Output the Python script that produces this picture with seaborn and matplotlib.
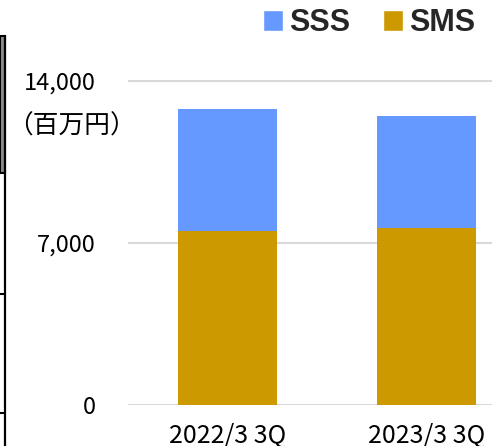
import matplotlib
matplotlib.use("Agg")
import matplotlib.pyplot as plt
import seaborn as sns
import pandas as pd
from matplotlib.patches import Patch, Rectangle
from matplotlib.lines import Line2D

# data (unit: million yen)
periods = ["2022/3 3Q", "2023/3 3Q"]
sms = [7500, 7610]
sss = [5255, 4855]
y_ticks = [0, 7000, 14000]
y_tick_labels = ["0", "7,000", "14,000"]
unit_label = "（百万円）"

BLUE = "#6699ff"
GOLD = "#cc9900"

sns.set_theme(style="white")
plt.rcParams["font.family"] = ["Noto Sans CJK JP", "DejaVu Sans"]

df = pd.DataFrame({"period": periods, "SMS": sms, "SSS": sss})
df["total"] = df["SMS"] + df["SSS"]

y_top = 14300
px_per_unit = 324 / 14000
fig = plt.figure(figsize=(4.92, 4.46), dpi=100)
ax = fig.add_axes([128 / 492, 41.5 / 446, 1 - 128 / 492, y_top * px_per_unit / 446])

# stacked bars: total (blue) underneath, SMS (gold) on top of it
sns.barplot(data=df, x="period", y="total", color=BLUE, width=0.5,
            saturation=1, linewidth=0, ax=ax, zorder=2)
sns.barplot(data=df, x="period", y="SMS", color=GOLD, width=0.5,
            saturation=1, linewidth=0, ax=ax, zorder=3)

ax.set_xlim(-0.5, 1.33)
ax.set_ylim(0, y_top)
ax.set_yticks(y_ticks)
ax.set_yticklabels(y_tick_labels)
ax.yaxis.grid(True, color="#d9d9d9", linewidth=1.5, zorder=0)
ax.set_axisbelow(True)
ax.set_xlabel("")
ax.set_ylabel("")
sns.despine(ax=ax, left=True, bottom=True)
ax.tick_params(axis="y", length=0, pad=23, labelsize=17, colors="black")
ax.tick_params(axis="x", length=0, pad=13, labelsize=18, colors="black")

fig.text(7 / 492, 1 - 127 / 446, unit_label, fontsize=18.5, va="center",
         ha="left", color="black")

# legend
handles = [Patch(facecolor=BLUE, label="SSS"), Patch(facecolor=GOLD, label="SMS")]
fig.legend(handles=handles, loc="center right", bbox_to_anchor=(475 / 492, 1 - 23 / 446),
           ncol=2, frameon=False, handlelength=0.66, handleheight=0.66,
           handletextpad=0.2, columnspacing=1.05, borderpad=0, borderaxespad=0,
           prop={"family": "Liberation Sans", "weight": "bold", "size": 22})

# cropped fragment of neighbouring slide on the left edge
fig.add_artist(Rectangle((0, 1 - 173 / 446), 4.5 / 492, 137 / 446,
                         transform=fig.transFigure, facecolor="#8c8c8c",
                         edgecolor="black", linewidth=1.5))
fig.add_artist(Line2D([4.5 / 492, 4.5 / 492], [0, 1 - 36 / 446],
                      transform=fig.transFigure, color="black", linewidth=1.6))
for yy in [294, 413]:
    fig.add_artist(Line2D([0, 4.5 / 492], [1 - yy / 446, 1 - yy / 446],
                          transform=fig.transFigure, color="black", linewidth=1.5))

fig.savefig("out.png", dpi=100)
